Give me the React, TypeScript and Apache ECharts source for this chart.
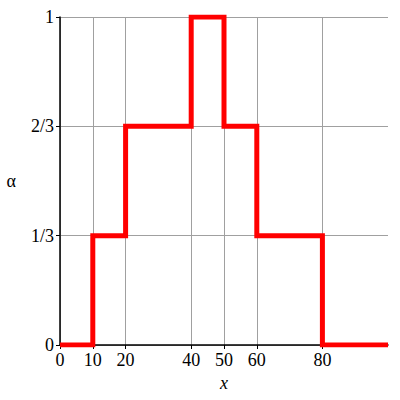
import React, { useEffect, useRef } from "react";
import * as echarts from "echarts";

const stepX = [0, 10, 20, 40, 50, 60, 80, 100];
const stepY = [0, 1 / 3, 2 / 3, 1, 2 / 3, 1 / 3, 0, 0];
const xTicks = [0, 10, 20, 40, 50, 60, 80];
const yTicks = [0, 1 / 3, 2 / 3, 1];
const yTickLabels = ["0", "1/3", "2/3", "1"];

export default function App() {
  const ref = useRef<HTMLDivElement>(null);
  useEffect(() => {
    const chart = echarts.init(ref.current!, null, { renderer: "svg" });
    const font = "serif";
    chart.setOption({
      animation: false,
      textStyle: { fontFamily: font },
      grid: { left: 60, right: 12, top: 17, bottom: 55 },
      xAxis: {
        type: "value",
        min: 0,
        max: 100,
        name: "x",
        nameLocation: "middle",
        nameGap: 26,
        nameTextStyle: { fontFamily: font, fontSize: 18, fontStyle: "italic", color: "#000" },
        axisLine: { show: true, onZero: false, lineStyle: { color: "#000", width: 1.5 } },
        axisTick: { show: true, length: 4, customValues: xTicks, lineStyle: { color: "#000" } },
        axisLabel: { customValues: xTicks, fontFamily: font, fontSize: 18, color: "#000", margin: 6 },
        splitLine: { show: true, lineStyle: { color: "#a0a0a0", width: 1 } },
      },
      yAxis: {
        type: "value",
        min: 0,
        max: 1,
        name: "α",
        nameLocation: "middle",
        nameRotate: 0,
        nameGap: 44,
        nameTextStyle: { fontFamily: font, fontSize: 18, color: "#000" },
        axisLine: { show: true, onZero: false, lineStyle: { color: "#000", width: 1.5 } },
        axisTick: { show: true, length: 4, customValues: yTicks, lineStyle: { color: "#000" } },
        axisLabel: {
          customValues: yTicks,
          fontFamily: font,
          fontSize: 18,
          color: "#000",
          margin: 6,
          formatter: (v: number) => {
            let best = 0;
            yTicks.forEach((t, i) => {
              if (Math.abs(t - v) < Math.abs(yTicks[best] - v)) best = i;
            });
            return yTickLabels[best];
          },
        },
        splitLine: { show: true, lineStyle: { color: "#a0a0a0", width: 1 } },
      },
      series: [
        {
          type: "line",
          step: "end",
          data: stepX.map((x, i) => [x, stepY[i]]),
          showSymbol: false,
          symbol: "none",
          lineStyle: { color: "#ff0000", width: 5, join: "miter" },
          z: 5,
        },
      ],
    });
    return () => chart.dispose();
  }, []);
  return <div ref={ref} style={{ width: 400, height: 400, position: "absolute", left: 0, top: 0 }} />;
}
